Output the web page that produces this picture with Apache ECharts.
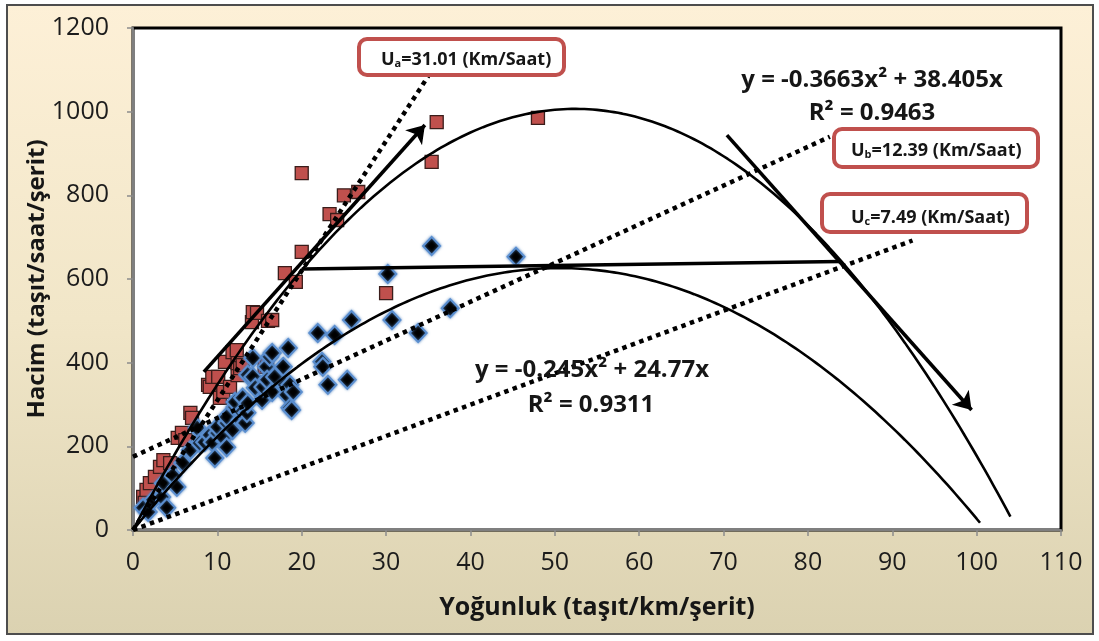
<!DOCTYPE html>
<html>
<head>
<meta charset="utf-8">
<title>Hacim - Yoğunluk</title>
<script src="https://cdn.jsdelivr.net/npm/echarts@6/dist/echarts.min.js"></script>
<style>
  html, body { margin: 0; padding: 0; background: #ffffff; }
  #chart { width: 1099px; height: 641px; }
</style>
</head>
<body>
<div id="chart"></div>
<script>
// Axis ticks
const xTicks = [0, 10, 20, 30, 40, 50, 60, 70, 80, 90, 100, 110];
const yTicks = [0, 200, 400, 600, 800, 1000, 1200];

// Observed points, group a (red squares): [density, flow]
const pointsA = [
  [1.2, 79], [1.4, 65], [1.6, 96], [2.0, 112], [2.6, 127], [3.2, 151], [3.6, 167], [4.4, 160],
  [5.3, 220], [5.8, 232], [6.2, 215], [6.8, 280], [7.0, 268], [8.9, 347], [9.1, 342], [9.4, 366],
  [10.1, 366], [10.3, 316], [10.7, 330], [10.9, 402], [11.5, 342], [11.8, 425], [12.3, 430],
  [12.4, 370], [12.4, 399], [12.7, 387], [13.0, 394], [14.1, 497], [14.2, 521], [14.7, 519],
  [15.6, 390], [15.9, 394], [16.0, 500], [16.5, 502], [18.0, 614], [19.3, 593], [20.0, 665],
  [20.0, 853], [23.3, 755], [24.2, 741], [25.0, 800], [26.7, 808], [30.0, 566], [35.4, 880],
  [36.0, 975], [48.0, 985]
];

// Observed points, group b (black diamonds)
const pointsB = [
  [1.2, 53], [1.8, 43], [2.4, 72], [3.4, 79], [3.6, 112], [4.0, 53], [4.7, 131], [5.2, 103],
  [5.9, 160], [6.8, 191], [7.6, 244], [7.9, 208], [8.5, 210], [9.1, 227], [9.4, 210], [9.7, 172],
  [10.0, 232], [10.0, 246], [10.7, 220], [11.1, 198], [11.1, 256], [11.1, 270], [11.8, 239],
  [12.1, 294], [12.1, 306], [12.7, 263], [12.9, 282], [13.0, 316], [13.3, 256], [13.5, 280],
  [13.6, 303], [13.6, 371], [14.2, 366], [14.2, 411], [14.5, 340], [15.3, 311], [15.4, 342],
  [15.8, 390], [15.9, 359], [16.2, 414], [16.5, 330], [16.5, 423], [16.8, 366], [17.8, 390],
  [18.0, 347], [18.2, 323], [18.4, 435], [18.6, 292], [18.6, 347], [18.8, 287], [19.0, 330],
  [21.9, 471], [22.4, 402], [22.5, 390], [23.1, 347], [23.9, 466], [25.4, 359], [25.9, 502],
  [30.2, 612], [30.7, 502], [33.8, 471], [35.4, 679], [37.6, 530], [45.4, 653]
];

// Fitted trendlines y = a*x^2 + b*x, with the x range they are drawn over
const trendA = [-0.3663, 38.405];
const trendARange = [0, 104];
const trendB = [-0.245, 24.77];
const trendBRange = [0, 100.4];

// Speed rays (dotted): start and end points
const rayUa = [[0, 0], [35.0, 1085]];
const rayUb = [[0, 175], [82.6, 940]];
const rayUc = [[0, 0], [92.4, 692]];

// Sketched arrows and the capacity link line
const arrowUp = [[8.4, 378], [34.6, 968]];
const arrowDown = [[70.4, 944], [99.4, 287]];
const capacityLink = [[20.0, 624], [83.8, 642]];

// Text labels
const eqA = 'y = -0.3663x² + 38.405x';
const r2A = 'R² = 0.9463';
const eqB = 'y = -0.245x² + 24.77x';
const r2B = 'R² = 0.9311';
const speedLabels = [
  ['U', 'a', '=31.01 (Km/Saat)'],
  ['U', 'b', '=12.39 (Km/Saat)'],
  ['U', 'c', '=7.49 (Km/Saat)']
];
const xTitle = 'Yoğunluk (taşıt/km/şerit)';
const yTitle = 'Hacim (taşıt/saat/şerit)';

function trendPoints(coef, range) {
  const pts = [];
  const step = 0.5;
  for (let x = range[0]; x < range[1]; x += step) {
    pts.push([x, coef[0] * x * x + coef[1] * x]);
  }
  const xe = range[1];
  pts.push([xe, coef[0] * xe * xe + coef[1] * xe]);
  return pts;
}

const FONT = '"Open Sans", "DejaVu Sans", sans-serif';
const TXT = '#161616';

function dottedRay(pts) {
  return {
    type: 'line', data: pts, symbol: 'none', silent: true, z: 4,
    lineStyle: { color: '#000', width: 4.5, type: 'dotted', cap: 'butt' }
  };
}
function trendSeries(pts) {
  return {
    type: 'line', data: pts, symbol: 'none', silent: true, z: 4, smooth: false,
    lineStyle: { color: '#000', width: 2.6 }
  };
}
function straight(pts, withArrow) {
  return {
    type: 'lines', coordinateSystem: 'cartesian2d', silent: true, z: 5,
    symbol: withArrow ? ['none', 'arrow'] : ['none', 'none'],
    symbolSize: 17,
    lineStyle: { color: '#000', width: 3.6, opacity: 1, curveness: 0 },
    data: [{ coords: pts }]
  };
}
function speedBox(x, y, w, h, label, textX, textY) {
  return [
    {
      type: 'rect', z: 100,
      shape: { x: x, y: y, width: w, height: h, r: 8 },
      style: { fill: '#ffffff', stroke: '#c0504d', lineWidth: 4 }
    },
    {
      type: 'text', z: 101, x: textX, y: textY,
      style: {
        text: '{m|' + label[0] + '}{s|' + label[1] + '}{m|' + label[2] + '}',
        textVerticalAlign: 'middle',
        rich: {
          m: { fontFamily: FONT, fontWeight: 'bold', fontSize: 18, fill: TXT, lineHeight: 22, verticalAlign: 'bottom' },
          s: { fontFamily: FONT, fontWeight: 'bold', fontSize: 11, fill: TXT, lineHeight: 18, verticalAlign: 'bottom' }
        }
      }
    }
  ];
}
const plainNumber = function (v) { return String(v); };

const chart = echarts.init(document.getElementById('chart'), null, { renderer: 'canvas' });

const option = {
  animation: false,
  backgroundColor: '#ffffff',
  grid: {
    left: 133, right: 38, top: 28, bottom: 111,
    show: true, backgroundColor: '#ffffff', borderColor: '#000000', borderWidth: 3,
    containLabel: false, outerBoundsMode: 'none'
  },
  xAxis: {
    type: 'value', min: xTicks[0], max: xTicks[xTicks.length - 1], interval: xTicks[1] - xTicks[0],
    axisLine: { show: true, onZero: false, lineStyle: { color: '#7f7f7f', width: 2 } },
    axisTick: { show: true, inside: false, length: 6, lineStyle: { color: '#8c8c8c', width: 1.5 } },
    splitLine: { show: false },
    axisLabel: { color: '#1c1c1c', fontFamily: FONT, fontSize: 25, margin: 20, formatter: plainNumber }
  },
  yAxis: {
    type: 'value', min: yTicks[0], max: yTicks[yTicks.length - 1], interval: yTicks[1] - yTicks[0],
    axisLine: { show: true, onZero: false, lineStyle: { color: '#7f7f7f', width: 2 } },
    axisTick: { show: true, inside: false, length: 6, lineStyle: { color: '#8c8c8c', width: 1.5 } },
    splitLine: { show: false },
    axisLabel: { color: '#1c1c1c', fontFamily: FONT, fontSize: 25, margin: 24, formatter: plainNumber }
  },
  series: [
    {
      type: 'scatter', data: pointsA, symbol: 'rect', symbolSize: 13, z: 2, silent: true,
      itemStyle: { color: '#c0504d', borderColor: '#3a1d1b', borderWidth: 1.3, opacity: 1 }
    },
    {
      type: 'scatter', data: pointsB, symbol: 'diamond', symbolSize: [17, 18], z: 3, silent: true,
      itemStyle: {
        color: '#000000', borderColor: '#5b8fd0', borderWidth: 2, opacity: 1,
        shadowBlur: 3, shadowColor: 'rgba(79,129,189,0.8)'
      }
    },
    trendSeries(trendPoints(trendA, trendARange)),
    trendSeries(trendPoints(trendB, trendBRange)),
    dottedRay(rayUa),
    dottedRay(rayUb),
    dottedRay(rayUc),
    straight(arrowUp, true),
    straight(arrowDown, true),
    straight(capacityLink, false)
  ],
  graphic: [
    {
      type: 'rect', z: -10, silent: true,
      shape: { x: 7, y: 5, width: 1086, height: 629 },
      style: {
        fill: new echarts.graphic.LinearGradient(0, 0, 0, 1, [
          { offset: 0, color: '#fdf0d7' },
          { offset: 0.5, color: '#f1e6c8' },
          { offset: 1, color: '#dbd2b1' }
        ]),
        stroke: '#4d4d4d', lineWidth: 2
      }
    },
    {
      type: 'text', z: 50, x: 597, y: 608,
      style: { text: xTitle, font: 'bold 25px ' + FONT, fill: '#161616', textAlign: 'center', textVerticalAlign: 'middle' }
    },
    {
      type: 'text', z: 50, x: 37, y: 279, rotation: Math.PI / 2,
      style: { text: yTitle, font: 'bold 24px ' + FONT, fill: '#161616', textAlign: 'center', textVerticalAlign: 'middle' }
    },
    {
      type: 'text', z: 60, x: 872, y: 80,
      style: { text: eqA, font: 'bold 24px ' + FONT, fill: TXT, textAlign: 'center', textVerticalAlign: 'middle' }
    },
    {
      type: 'text', z: 60, x: 872, y: 113,
      style: { text: r2A, font: 'bold 24px ' + FONT, fill: TXT, textAlign: 'center', textVerticalAlign: 'middle' }
    },
    {
      type: 'text', z: 60, x: 592, y: 370,
      style: { text: eqB, font: 'bold 24px ' + FONT, fill: TXT, textAlign: 'center', textVerticalAlign: 'middle' }
    },
    {
      type: 'text', z: 60, x: 591, y: 405,
      style: { text: r2B, font: 'bold 24px ' + FONT, fill: TXT, textAlign: 'center', textVerticalAlign: 'middle' }
    }
  ]
    .concat(speedBox(359, 39, 205, 36, speedLabels[0], 381, 58))
    .concat(speedBox(834, 129, 204, 38, speedLabels[1], 851, 149))
    .concat(speedBox(822, 194, 205, 38, speedLabels[2], 851, 216))
};

chart.setOption(option);
</script>
</body>
</html>
